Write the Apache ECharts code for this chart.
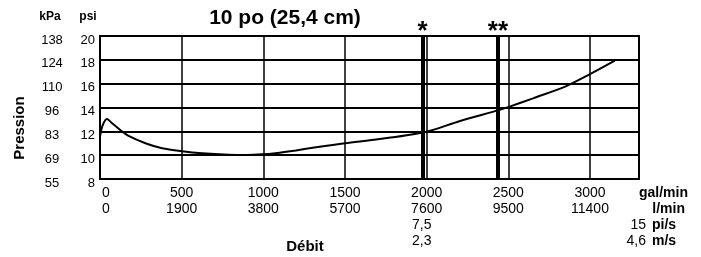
<!DOCTYPE html>
<html>
<head>
<meta charset="utf-8">
<script src="https://cdn.jsdelivr.net/npm/echarts@6/dist/echarts.min.js"></script>
<style>html,body{margin:0;padding:0;background:#fff}#c{width:701px;height:257px}</style>
</head>
<body>
<div id="c"></div>
<script>
// ---- data ----
const galTicks = [0, 500, 1000, 1500, 2000, 2500, 3000];
const lminTicks = [0, 1900, 3800, 5700, 7600, 9500, 11400];
const psiTicks = [8, 10, 12, 14, 16, 18, 20];
const kpaTicks = [55, 69, 83, 96, 110, 124, 138];
const flowGal = [0, 16, 43, 74, 124, 175, 278, 380, 502, 625, 788, 900, 993, 1074, 1200, 1323, 1500, 1712, 2000, 2200, 2447, 2508, 2651, 2855, 3000, 3152];
const pressurePsi = [11.55, 12.5, 13.04, 12.68, 12.11, 11.61, 11.0, 10.58, 10.33, 10.16, 10.04, 10.02, 10.07, 10.17, 10.4, 10.66, 11.0, 11.35, 11.97, 12.85, 13.8, 14.07, 14.77, 15.8, 16.8, 17.93];
const markerFlows = [1975, 2436];
const markerLabels = ['*', '**'];

const SANS = '"Liberation Sans", Arial, sans-serif';

const chart = echarts.init(document.getElementById('c'), null, {renderer: 'canvas'});
const curve = flowGal.map((g, i) => [g, pressurePsi[i]]);

chart.setOption({
  animation: false,
  backgroundColor: '#fff',
  grid: {left: 100, right: 62, top: 36, bottom: 78, show: true, borderColor: '#000', borderWidth: 2, backgroundColor: 'transparent'},
  xAxis: {
    type: 'value', min: 0, max: 3300, interval: 500,
    axisLine: {show: true, lineStyle: {color: '#000', width: 2}},
    axisTick: {show: false},
    splitLine: {show: true, lineStyle: {color: '#000', width: 1.5}},
    axisLabel: {
      margin: 6, color: '#000', fontFamily: SANS, fontSize: 14, lineHeight: 16, verticalAlign: 'top',
      showMaxLabel: false,
      formatter: v => {
        const i = galTicks.indexOf(v);
        if (i < 0) return '';
        if (i === 0) return '{z|' + galTicks[i] + '}\n{z|' + lminTicks[i] + '}';
        return galTicks[i] + '\n' + lminTicks[i];
      },
      rich: {z: {padding: [0, 0, 0, 12], fontFamily: SANS, fontSize: 14, lineHeight: 16, color: '#000'}}
    }
  },
  yAxis: [
    {
      type: 'value', min: 8, max: 20, interval: 2, position: 'left',
      axisLine: {show: true, lineStyle: {color: '#000', width: 2}},
      axisTick: {show: false},
      splitLine: {show: true, lineStyle: {color: '#000', width: 2}},
      axisLabel: {margin: 5, color: '#000', fontFamily: SANS, fontSize: 13, lineHeight: 8, verticalAlign: 'top',
        formatter: v => { const i = psiTicks.indexOf(v); return i < 0 ? '' : String(psiTicks[i]); }}
    },
    {
      type: 'value', min: 8, max: 20, interval: 2, position: 'left',
      axisLine: {show: false}, axisTick: {show: false}, splitLine: {show: false},
      axisLabel: {margin: 48, align: 'center', color: '#000', fontFamily: SANS, fontSize: 13, lineHeight: 8, verticalAlign: 'top',
        formatter: v => { const i = psiTicks.indexOf(v); return i < 0 ? '' : String(kpaTicks[i]); }}
    }
  ],
  series: [{
    type: 'line', data: curve, showSymbol: false, smooth: 0.3,
    lineStyle: {color: '#000', width: 2}, z: 5,
    markLine: {
      silent: true, symbol: ['none', 'none'],
      lineStyle: {color: '#000', width: 4, type: 'solid'},
      label: {show: true, position: 'end', distance: -9, color: '#000', fontFamily: SANS, fontWeight: 'bold', fontSize: 26,
        formatter: p => p.name},
      data: markerFlows.map((f, i) => ({xAxis: f, name: markerLabels[i]}))
    }
  }],
  graphic: [
    {type: 'text', style: {text: '10 po (25,4 cm)', x: 285, y: 18, fontFamily: SANS, fontSize: 21, fontWeight: 'bold', fill: '#000', align: 'center', verticalAlign: 'middle'}},
    {type: 'text', style: {text: 'kPa', x: 50, y: 17, fontFamily: SANS, fontSize: 12, fontWeight: 'bold', fill: '#000', align: 'center', verticalAlign: 'middle'}},
    {type: 'text', style: {text: 'psi', x: 88, y: 17, fontFamily: SANS, fontSize: 12, fontWeight: 'bold', fill: '#000', align: 'center', verticalAlign: 'middle'}},
    {type: 'text', x: 20, y: 128, rotation: Math.PI / 2, style: {text: 'Pression', x: 0, y: 0, fontFamily: SANS, fontSize: 15, fontWeight: 'bold', fill: '#000', align: 'center', verticalAlign: 'middle'}},
    {type: 'text', style: {text: 'Débit', x: 305, y: 247, fontFamily: SANS, fontSize: 15, fontWeight: 'bold', fill: '#000', align: 'center', verticalAlign: 'middle'}},
    {type: 'text', style: {text: 'gal/min', x: 688, y: 193, fontFamily: SANS, fontSize: 14, fontWeight: 'bold', fill: '#000', align: 'right', verticalAlign: 'middle'}},
    {type: 'text', style: {text: 'l/min', x: 685, y: 209, fontFamily: SANS, fontSize: 14, fontWeight: 'bold', fill: '#000', align: 'right', verticalAlign: 'middle'}},
    {type: 'text', style: {text: '7,5', x: 412, y: 225, fontFamily: SANS, fontSize: 14, fill: '#000', align: 'left', verticalAlign: 'middle'}},
    {type: 'text', style: {text: '2,3', x: 412, y: 241, fontFamily: SANS, fontSize: 14, fill: '#000', align: 'left', verticalAlign: 'middle'}},
    {type: 'text', style: {text: '15', x: 646, y: 225, fontFamily: SANS, fontSize: 14, fill: '#000', align: 'right', verticalAlign: 'middle'}},
    {type: 'text', style: {text: 'pi/s', x: 652, y: 225, fontFamily: SANS, fontSize: 14, fontWeight: 'bold', fill: '#000', align: 'left', verticalAlign: 'middle'}},
    {type: 'text', style: {text: '4,6', x: 646, y: 241, fontFamily: SANS, fontSize: 14, fill: '#000', align: 'right', verticalAlign: 'middle'}},
    {type: 'text', style: {text: 'm/s', x: 652, y: 241, fontFamily: SANS, fontSize: 14, fontWeight: 'bold', fill: '#000', align: 'left', verticalAlign: 'middle'}}
  ]
});
</script>
</body>
</html>
